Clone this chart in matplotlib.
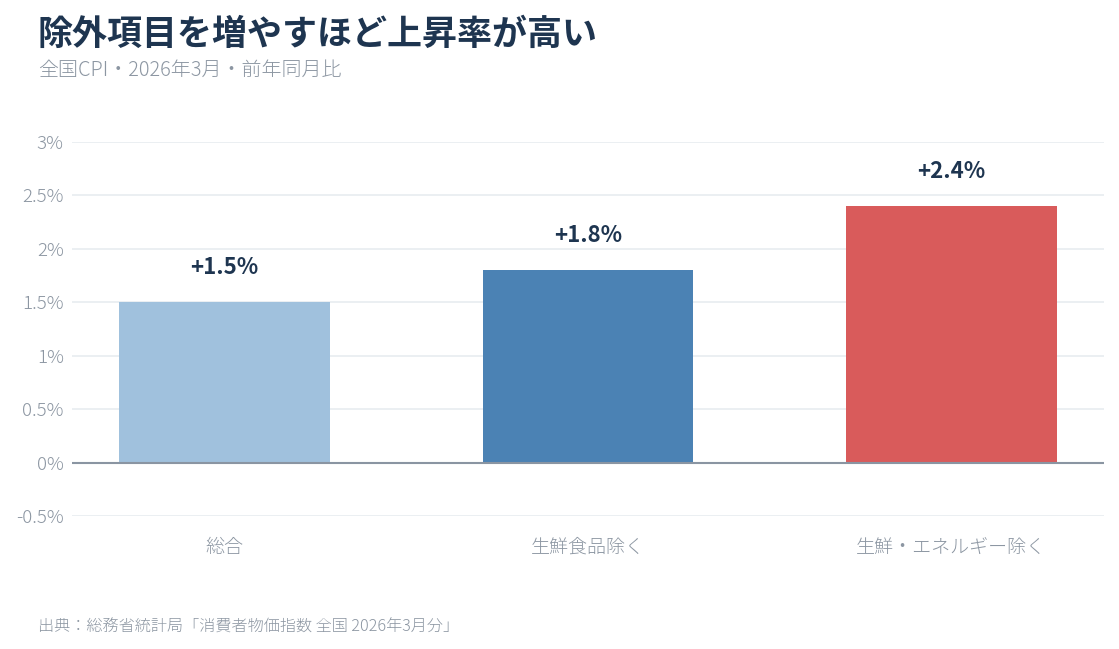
import matplotlib
matplotlib.use("Agg")
import matplotlib.pyplot as plt
from matplotlib.ticker import FuncFormatter

plt.rcParams['font.family'] = ['Noto Sans CJK JP', 'DejaVu Sans']

categories = ['総合', '生鮮食品除く', '生鮮・エネルギー除く']
values = [1.5, 1.8, 2.4]
colors = ['#a0c1dd', '#4b82b4', '#d95b5b']
yticks = [-0.5, 0, 0.5, 1, 1.5, 2, 2.5, 3]

title = '除外項目を増やすほど上昇率が高い'
subtitle = '全国CPI・2026年3月・前年同月比'
source = '出典：総務省統計局「消費者物価指数 全国 2026年3月分」'

navy = '#1e3550'
gray = '#8c96a2'

W, H = 1119, 649
fig = plt.figure(figsize=(W / 100, H / 100), dpi=100)
ax = fig.add_axes([72 / W, 1 - 516 / H, (1104 - 72) / W, (516 - 142) / H])

x = range(len(categories))
ax.bar(x, values, width=0.58, color=colors, zorder=2)
for i, v in enumerate(values):
    ax.annotate(f'+{v}%', (i, v), xytext=(0, 17), textcoords='offset points',
                ha='center', va='bottom', fontsize=16, fontweight='bold', color=navy)

ax.set_xlim(-0.42, 2.42)
ax.set_ylim(-0.5, 3)
ax.set_yticks(yticks)
ax.yaxis.set_major_formatter(FuncFormatter(lambda v, p: f'{v:g}%'))
ax.set_xticks(list(x))
ax.set_xticklabels(categories)
ax.tick_params(axis='both', length=0, labelcolor=gray)
ax.tick_params(axis='x', pad=15, labelsize=13.7)
ax.tick_params(axis='y', pad=6, labelsize=13.5)
for lab in ax.get_xticklabels() + ax.get_yticklabels():
    lab.set_fontweight('light')
ax.grid(axis='y', color='#e8ecf0', linewidth=1.2, zorder=0)
ax.axhline(0, color='#8a95a2', linewidth=1.5, zorder=3)
for s in ax.spines.values():
    s.set_visible(False)

fig.text(38 / W, 1 - 34 / H, title, fontsize=25.2, fontweight='bold', color=navy, va='center')
fig.text(38 / W, 1 - 70 / H, subtitle, fontsize=14.4, color=gray, va='center', fontweight='light')
fig.text(38 / W, 1 - 627 / H, source, fontsize=11.6, color=gray, va='center', fontweight='light')

fig.savefig('out.png', dpi=100)
